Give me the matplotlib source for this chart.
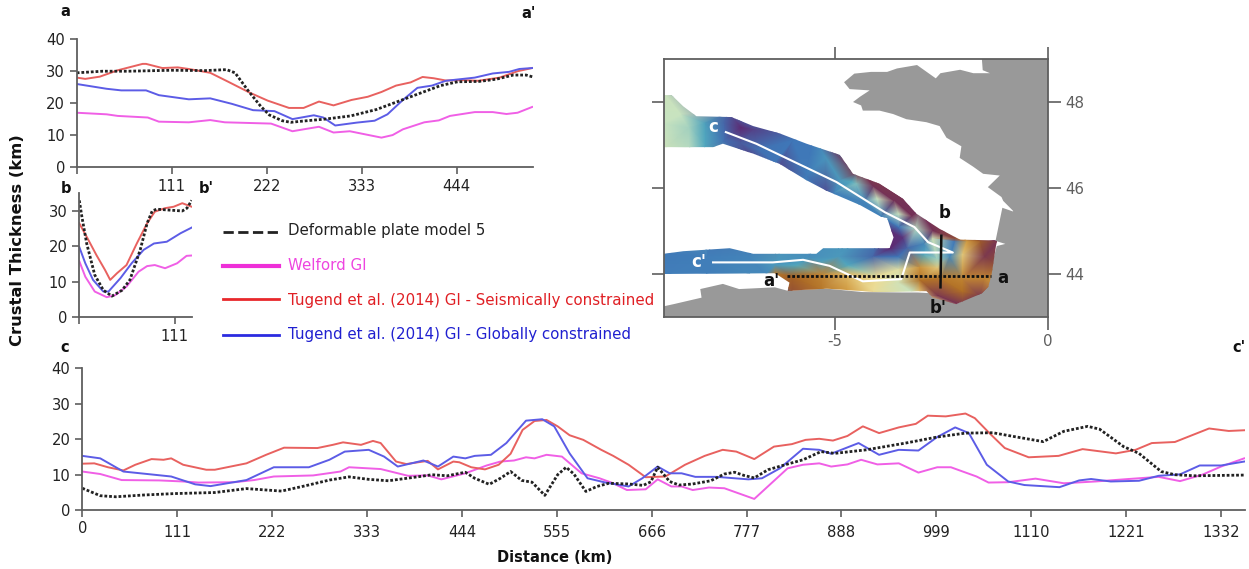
import matplotlib
matplotlib.use('Agg')
import matplotlib.pyplot as plt
from matplotlib.colors import LinearSegmentedColormap
from matplotlib.patches import Polygon
from matplotlib.tri import Triangulation

W, H = 1249, 569

RED = '#e8615f'
BLUE = '#5c5ce6'
MAG = '#f05fe6'
GREY = '#5f5f5f'

# profile a-a'
a_black_x = [0, 30, 60, 111, 150, 175, 185, 200, 215, 225, 240, 250, 265, 290, 320, 350, 375, 400, 425, 445, 470, 490, 510, 525, 533]
a_black_y = [29.5, 30, 30, 30.3, 30.2, 30.5, 29.5, 24, 19, 16.3, 14.5, 14, 14.4, 15, 16, 18, 20.5, 23, 25.5, 26.7, 26.8, 27.5, 28.8, 28.8, 28.2]
a_red_x = [0, 10, 27, 48, 77, 81, 100, 118, 131, 156, 177, 202, 223, 248, 265, 283, 300, 321, 340, 356, 373, 390, 404, 417, 431, 452, 469, 494, 515, 532]
a_red_y = [28, 27.6, 28.3, 30.3, 32.3, 32.3, 31, 31.2, 30.7, 29.5, 26.7, 23.3, 20.8, 18.5, 18.5, 20.5, 19.3, 21, 22, 23.5, 25.5, 26.5, 28.2, 27.8, 27.1, 27.2, 27, 28, 30, 31]
a_blue_x = [0, 35, 52, 81, 96, 131, 156, 181, 206, 231, 252, 277, 288, 302, 327, 348, 363, 381, 398, 415, 431, 465, 486, 505, 517, 532]
a_blue_y = [26, 24.5, 24, 24, 22.5, 21.2, 21.5, 19.8, 17.8, 17.5, 15, 16.2, 15.5, 13, 13.9, 14.5, 16.5, 21, 24.8, 25.5, 27, 28, 29.3, 29.8, 30.7, 31]
a_mag_x = [0, 35, 48, 83, 96, 131, 156, 173, 227, 252, 265, 283, 300, 319, 356, 369, 381, 406, 423, 436, 465, 486, 502, 515, 532]
a_mag_y = [17, 16.5, 16, 15.5, 14.2, 14, 14.7, 14, 13.6, 11.2, 11.8, 12.6, 10.8, 11.2, 9.2, 10, 11.8, 14, 14.6, 16, 17.2, 17.2, 16.6, 17, 18.8]

# profile b-b'
b_black_x = [0, 3, 8.6, 18, 28, 38, 50, 59, 71, 79, 85, 90, 102, 120, 125.5, 131]
b_black_y = [33, 28.4, 20.8, 11.9, 7.6, 5.9, 7.6, 10.5, 19, 26.5, 30, 30.5, 30.3, 30, 30.8, 33]
b_red_x = [0, 8.6, 20, 30, 36, 44, 55, 67, 79, 88, 100, 110, 120, 131]
b_red_y = [26.5, 22.7, 17.5, 13.3, 10.5, 12.4, 14.7, 20.8, 26.5, 29.8, 30.8, 31.2, 32.2, 31.2]
b_blue_x = [0, 7, 16, 28, 34, 48, 61, 75, 87, 102, 118, 131]
b_blue_y = [19.8, 15.2, 10.5, 7.2, 7.2, 11, 15.2, 19, 20.8, 21.3, 23.7, 25.3]
b_mag_x = [0, 7, 18, 32, 42, 55, 69, 79, 88, 100, 114, 125, 131]
b_mag_y = [15.8, 11.4, 7.2, 5.6, 6.2, 8.6, 12.8, 14.4, 14.7, 13.8, 15.2, 17.3, 17.4]

# profile c-c'
c_black_x = [0, 21, 39, 72, 108, 155, 192, 233, 261, 289, 312, 335, 358, 395, 409, 427, 448, 459, 476, 489, 501, 514, 526, 541, 556, 566, 575, 589, 602, 616, 639, 656, 665, 673, 687, 698, 714, 735, 751, 763, 774, 786, 802, 825, 843, 864, 880, 917, 963, 1000, 1033, 1065, 1093, 1124, 1148, 1176, 1190, 1218, 1236, 1262, 1278, 1301, 1359]
c_black_y = [6.2, 4.1, 3.8, 4.3, 4.7, 5, 6.1, 5.4, 6.9, 8.5, 9.4, 8.7, 8.3, 9.5, 10, 9.7, 10.7, 9, 7.3, 9, 10.9, 8.4, 7.9, 4.2, 10, 12.1, 10.2, 5.3, 6.7, 7.6, 7.4, 7, 8, 12.1, 8.1, 7.1, 7.4, 8.3, 10.2, 10.7, 9.8, 9.1, 11.4, 13, 14.2, 16.5, 16, 17, 18.9, 20.6, 21.7, 21.8, 20.6, 19.3, 22.2, 23.6, 22.8, 17.9, 16, 10.9, 10, 9.7, 9.9]
c_red_x = [0, 14, 30, 48, 62, 81, 95, 104, 118, 145, 155, 192, 215, 236, 275, 293, 305, 326, 340, 349, 367, 379, 404, 416, 434, 441, 455, 471, 487, 501, 515, 529, 543, 556, 570, 586, 607, 621, 639, 659, 682, 705, 728, 749, 765, 786, 809, 830, 846, 862, 878, 895, 913, 932, 955, 975, 989, 1010, 1033, 1044, 1061, 1079, 1107, 1142, 1170, 1209, 1232, 1251, 1278, 1318, 1341, 1359]
c_red_y = [13.1, 13.2, 12.1, 11.2, 12.8, 14.4, 14.2, 14.6, 12.8, 11.4, 11.4, 13.2, 15.6, 17.6, 17.5, 18.4, 19.1, 18.4, 19.5, 18.9, 13.7, 13, 13.9, 11.5, 13.7, 13.5, 12.1, 11.5, 12.8, 15.9, 22.6, 25.1, 25.4, 23.6, 21.1, 19.8, 17, 15.3, 12.8, 9.3, 9.5, 12.8, 15.3, 17, 16.5, 14.4, 17.9, 18.6, 19.8, 20.1, 19.6, 20.9, 23.6, 21.7, 23.3, 24.3, 26.6, 26.4, 27.2, 25.9, 21.7, 17.5, 14.9, 15.3, 17.2, 16, 17, 18.9, 19.2, 23, 22.3, 22.5]
c_blue_x = [0, 21, 48, 104, 132, 150, 192, 224, 265, 289, 307, 335, 353, 369, 399, 416, 434, 448, 459, 478, 496, 519, 538, 552, 570, 591, 612, 639, 655, 673, 687, 701, 717, 742, 779, 795, 816, 843, 862, 876, 908, 932, 955, 978, 1000, 1021, 1037, 1058, 1083, 1102, 1143, 1166, 1180, 1203, 1236, 1259, 1284, 1307, 1332, 1359]
c_blue_y = [15.3, 14.6, 10.9, 9.5, 7.3, 6.8, 8.5, 12.1, 12.1, 14.2, 16.5, 17, 15.1, 12.3, 14, 12.3, 15.1, 14.6, 15.3, 15.6, 18.9, 25.2, 25.6, 23.6, 16, 9, 7.8, 6.7, 9, 12.3, 10.4, 10.4, 9.4, 9.4, 8.7, 9, 11.8, 17.3, 17, 15.9, 18.9, 15.6, 17, 16.8, 20.6, 23.3, 21.7, 12.8, 8.1, 7.1, 6.5, 8.4, 8.8, 8.1, 8.3, 9.7, 10.1, 12.6, 12.6, 13.7]
c_mag_x = [0, 21, 46, 90, 118, 136, 178, 201, 224, 270, 302, 312, 349, 381, 404, 420, 448, 473, 489, 505, 519, 529, 543, 561, 584, 605, 621, 637, 659, 673, 689, 701, 714, 733, 751, 786, 825, 843, 862, 876, 895, 911, 930, 955, 978, 1000, 1016, 1046, 1060, 1083, 1115, 1148, 1185, 1224, 1259, 1284, 1310, 1332, 1359]
c_mag_y = [10.9, 10.2, 8.5, 8.4, 8.1, 7.8, 7.9, 8.5, 9.5, 9.8, 10.9, 12.1, 11.6, 9.7, 9.8, 8.7, 10.4, 12.6, 13.7, 14, 14.9, 14.6, 15.6, 15.1, 10.4, 9, 7.6, 5.7, 5.9, 8.7, 6.7, 6.7, 5.7, 6.4, 6.2, 3.2, 11.8, 12.8, 13.2, 12.3, 12.9, 14.2, 12.9, 13.2, 10.6, 12.1, 12.1, 9.5, 7.8, 7.9, 8.9, 7.6, 8.1, 8.8, 9.4, 8.2, 10, 12.3, 14.6]

# map: land outline, lon / lat
land_lon = [-1.55, -1.53, -1.36, -1.75, -2.06, -2.52, -2.63, -3.07, -3.54, -3.77, -4.15, -4.54, -4.78, -4.65, -4.18, -4.41, -4.57, -4.38, -4.34, -3.95, -3.63, -3.32, -2.85, -2.54, -2.38, -2.03, -2.07, -1.76, -1.52, -1.13, -1.41, -1.09, -1.05, -0.82, -0.58, -0.72, -1.07, -1.23, -1.0, -1.2, -1.4, -1.55, -2.15, -2.7, -3.05, -3.4, -4.34, -5.2, -6.1, -6.4, -7.24, -7.62, -8.15, -8.12, -8.77, -9, -9, 0, 0]
land_lat = [49, 48.74, 48.67, 48.67, 48.75, 48.67, 48.55, 48.86, 48.78, 48.7, 48.7, 48.66, 48.46, 48.3, 48.27, 48.12, 48.0, 47.92, 47.8, 47.8, 47.72, 47.6, 47.53, 47.44, 47.17, 46.97, 46.7, 46.5, 46.33, 46.29, 46.02, 45.79, 45.7, 45.47, 45.05, 45.42, 45.54, 44.77, 44.7, 44.65, 43.9, 43.6, 43.3, 43.55, 43.57, 43.57, 43.58, 43.66, 43.61, 43.69, 43.65, 43.77, 43.65, 43.45, 43.3, 43.25, 43, 43, 49]

# map: outline of the crustal thickness grid
field_lon = [-9, -8.82, -8.55, -8.24, -7.42, -6.91, -6.29, -5.66, -4.88, -4.57, -3.95, -3.4, -3.08, -2.54, -2.18, -2.06, -1.2, -1.32, -1.4, -1.55, -2.15, -2.7, -2.85, -3.05, -4.0, -5.2, -6.1, -6.06, -6.4, -9, -9, -8.55, -7.46, -6.91, -5.43, -5.27, -3.71, -3.62, -3.77, -3.93, -4.4, -5.2, -5.66, -6.29, -6.91, -7.62, -7.85, -9]
field_lat = [48.16, 48.16, 47.9, 47.67, 47.65, 47.44, 47.27, 47.03, 46.77, 46.33, 46.1, 45.75, 45.4, 45.05, 44.86, 44.8, 44.78, 44.0, 43.7, 43.55, 43.3, 43.45, 43.6, 43.6, 43.58, 43.66, 43.61, 43.8, 44.02, 44.0, 44.47, 44.53, 44.6, 44.47, 44.47, 44.6, 44.6, 44.85, 45.3, 45.34, 45.6, 45.94, 46.18, 46.56, 46.8, 47.03, 46.95, 46.95]

# map: sampled thickness colour position
grid_lon = [-9, -9, -9, -8.6, -8.4, -8.4, -8.05, -8.05, -7.6, -7.2, -7.6, -7.2, -6.8, -6.4, -6.3, -5.66, -5, -4.88, -4.6, -4.3, -4.49, -4.1, -3.6, -3.2, -2.7, -2.2, -4.5, -4.0, -3.5, -3.1, -2.7, -4.4, -3.9, -3.5, -3.7, -3.4, -3.7, -3.3, -2.9, -2.9, -2.2, -1.9, -1.6, -1.2, -2.0, -1.5, -1.2, -2.3, -2.6, -2.6, -3, -3, -2.5, -2, -1.5, -1.3, -2.6, -2, -1.6, -2, -3, -4.1, -3.5, -3.5, -3.5, -3.2, -4, -4.1, -4.7, -4.7, -5.3, -5.3, -6, -6, -6.4, -4.7, -4.9, -5.3, -5.6, -6.4, -6.6, -7, -7, -8, -8, -9, -9, -5.9, -6.0, -7.5, -5.5, -4.3, -3.0, -2.1, -1.0, -5.2, -7.0, -6.9, -5.2]
grid_lat = [48.2, 47.5, 46.9, 47.7, 47.4, 46.95, 47.5, 47.0, 47.5, 47.4, 47.1, 47.05, 46.9, 46.6, 46.5, 46.3, 45.9, 46.2, 46.15, 45.7, 46.35, 46.05, 45.7, 45.35, 45.0, 44.82, 46.1, 45.75, 45.4, 45.05, 44.82, 45.7, 45.35, 45.1, 45.0, 44.85, 44.6, 44.6, 44.7, 44.45, 44.75, 44.75, 44.75, 44.75, 44.45, 44.4, 44.2, 44.4, 44.35, 44.15, 44.15, 43.85, 43.9, 43.9, 43.9, 43.8, 43.5, 43.25, 43.5, 43.6, 43.55, 44.4, 44.4, 44.1, 43.8, 43.6, 43.95, 43.6, 44.0, 43.6, 44.0, 43.65, 43.95, 43.6, 44.0, 44.2, 44.4, 44.3, 44.38, 44.2, 44.0, 44.4, 44.0, 44.4, 44.0, 44.5, 43.95, 44.2, 47.1, 47.75, 47.2, 46.3, 45.5, 45.0, 43.2, 45.95, 46.8, 47.35, 46.7]
grid_val = [0.43, 0.42, 0.44, 0.42, 0.38, 0.4, 0.28, 0.3, 0.12, 0.0, 0.14, 0.1, 0.14, 0.15, 0.06, 0.16, 0.18, 0.25, 0.3, 0.2, 0.95, 0.98, 0.98, 0.98, 0.98, 0.9, 0.35, 0.42, 0.42, 0.4, 0.45, 0.18, 0.18, 0.15, 0.0, 0.02, 0.0, 0.12, 0.2, 0.3, 0.15, 0.7, 0.85, 0.97, 0.6, 0.95, 0.88, 0.2, 0.38, 0.6, 0.72, 0.8, 0.78, 0.75, 0.75, 0.72, 0.96, 0.98, 0.95, 0.8, 0.6, 0.12, 0.15, 0.5, 0.45, 0.42, 0.55, 0.55, 0.63, 0.7, 0.75, 0.78, 0.83, 0.88, 0.78, 0.3, 0.25, 0.27, 0.22, 0.25, 0.2, 0.19, 0.2, 0.17, 0.17, 0.16, 0.17, 0.3, 0.15, 0.1, 0.15, 0.95, 0.98, 0.9, 0.8, 0.08, 0.06, 0.05, 0.24]

# map: section lines
c_line_lon = [-7.55, -6.84, -4.96, -3.83, -3.13, -2.81, -2.23, -3.24, -3.44, -4.34, -5.12, -5.74, -6.45, -7.85]
c_line_lat = [47.3, 47.03, 46.14, 45.44, 45.09, 44.74, 44.5, 44.5, 43.88, 43.83, 44.19, 44.33, 44.27, 44.27]
a_line_lon = [-6.11, -1.33]
a_line_lat = [43.96, 43.96]
b_line_lon = [-2.5, -2.52]
b_line_lat = [44.89, 43.69]

legend_labels = ['Deformable plate model 5', 'Welford GI',
                 'Tugend et al. (2014) GI - Seismically constrained',
                 'Tugend et al. (2014) GI - Globally constrained']
legend_colors = ['#222222', '#ee2fd8', '#e8282b', '#2b2be0']
legend_text_colors = ['#222222', '#ee45e0', '#e01f24', '#2020d0']

fig = plt.figure(figsize=(W / 100, H / 100), dpi=100)


def panel(x0, x1, ytop, ybot):
    return fig.add_axes([x0 / W, 1 - ybot / H, (x1 - x0) / W, (ybot - ytop) / H])


def ftext(x, y, s, **kw):
    kw.setdefault('ha', 'center')
    kw.setdefault('va', 'center')
    fig.text(x / W, 1 - y / H, s, **kw)


def profile(ax, black, mag, red, blue, xlim, ylim, yticks, xticks):
    ax.plot(mag[0], mag[1], color=MAG, lw=1.4)
    ax.plot(red[0], red[1], color=RED, lw=1.4)
    ax.plot(blue[0], blue[1], color=BLUE, lw=1.4)
    ax.plot(black[0], black[1], color='#222222', lw=2, dashes=(1, 0.7))
    ax.set_xlim(*xlim)
    ax.set_ylim(*ylim)
    ax.set_yticks(yticks)
    ax.set_xticks(xticks)
    ax.spines[['top', 'right']].set_visible(False)
    ax.spines[['left', 'bottom']].set_color(GREY)
    ax.spines[['left', 'bottom']].set_linewidth(1.3)
    ax.tick_params(color=GREY, width=1.2, length=5, labelsize=10.6, labelcolor='#222222')
    ax.patch.set_alpha(0)


ax_a = panel(76.7, 533, 39.3, 167)
profile(ax_a, (a_black_x, a_black_y), (a_mag_x, a_mag_y), (a_red_x, a_red_y), (a_blue_x, a_blue_y),
        (0, 533), (0, 40), [0, 10, 20, 30, 40], [0, 111, 222, 333, 444])
ax_a.set_xticklabels(['', '111', '222', '333', '444'])

ax_b = panel(79.3, 191.7, 193.3, 317)
profile(ax_b, (b_black_x, b_black_y), (b_mag_x, b_mag_y), (b_red_x, b_red_y), (b_blue_x, b_blue_y),
        (0, 131), (0, 35), [0, 10, 20, 30], [0, 111])
ax_b.set_xticklabels(['', '111'])

ax_c = panel(82.3, 1245, 368, 510.3)
profile(ax_c, (c_black_x, c_black_y), (c_mag_x, c_mag_y), (c_red_x, c_red_y), (c_blue_x, c_blue_y),
        (0, 1360), (0, 40), [0, 10, 20, 30, 40], [0, 111, 222, 333, 444, 555, 666, 777, 888, 999, 1110, 1221, 1332])
ax_c.tick_params(axis='x', pad=5.5)
ax_c.xaxis.get_major_ticks()[0].set_pad(3)

# map
ax_m = panel(664, 1048, 59, 317)
ax_m.set_xlim(-9, 0)
ax_m.set_ylim(43, 49)
ax_m.fill(land_lon, land_lat, color='#999999', lw=0, zorder=1)
cmap = LinearSegmentedColormap.from_list('crust', [
    (0.0, '#5e2a72'), (0.15, '#3f78b8'), (0.3, '#52a9be'), (0.42, '#c8e3c0'),
    (0.55, '#ecdc95'), (0.7, '#d29c42'), (0.82, '#a9661f'), (1.0, '#6e2a5e')])
tri = Triangulation(grid_lon, grid_lat)
mesh = ax_m.tripcolor(tri, grid_val, shading='gouraud', cmap=cmap, vmin=0, vmax=1, zorder=2)
clip = Polygon(list(zip(field_lon, field_lat)), closed=True, transform=ax_m.transData, fc='none', ec='none')
ax_m.add_patch(clip)
mesh.set_clip_path(clip)
ax_m.plot(c_line_lon, c_line_lat, color='white', lw=1.5, zorder=3)
ax_m.plot(a_line_lon, a_line_lat, color='#111111', lw=2, dashes=(1, 0.7), zorder=4)
ax_m.plot(b_line_lon, b_line_lat, color='#111111', lw=1.8, zorder=4)
ax_m.set_xticks([-5, 0])
ax_m.set_xticklabels(['-5', '0'])
ax_m.set_yticks([44, 46, 48])
ax_m.tick_params(left=True, right=True, top=True, bottom=True, labelleft=False, labelright=True,
                 color=GREY, width=1.2, length=9, labelsize=10.8, labelcolor=GREY)
for sp in ax_m.spines.values():
    sp.set_color(GREY)
    sp.set_linewidth(1.3)

# section letters
for x, y, s, c, fs in [(65, 11, 'a', '#111111', 10.5), (529, 13, "a'", '#111111', 10.5), (66, 188, 'b', '#111111', 10.5),
                       (206, 188, "b'", '#111111', 10.5), (65, 347, 'c', '#111111', 10.5), (1239, 348, "c'", '#111111', 10.5),
                       (713, 127, 'c', 'white', 12), (699, 262, "c'", 'white', 12), (771, 281, "a'", '#111111', 12),
                       (1003, 278, 'a', '#111111', 12), (945, 213, 'b', '#111111', 12), (938, 308, "b'", '#111111', 12)]:
    ftext(x, y, s, color=c, fontsize=fs, fontweight='bold')

# legend
for y, ty, lab, lc, tc, lw, ls in zip([232, 266, 299, 335], [230, 265, 300, 335], legend_labels, legend_colors,
                                      legend_text_colors, [2, 3, 2, 2], ['--', '-', '-', '-']):
    fig.add_artist(plt.Line2D([223 / W, 279 / W], [1 - y / H, 1 - y / H], color=lc, lw=lw, ls=ls))
    ftext(288, ty, lab, ha='left', color=tc, fontsize=10.85)

ftext(18, 240, 'Crustal Thickness (km)', rotation=90, fontweight='bold', fontsize=11.8, color='#111111')
ftext(555, 557, 'Distance (km)', fontweight='bold', fontsize=10.5, color='#111111')

fig.savefig('out.png', dpi=100)
